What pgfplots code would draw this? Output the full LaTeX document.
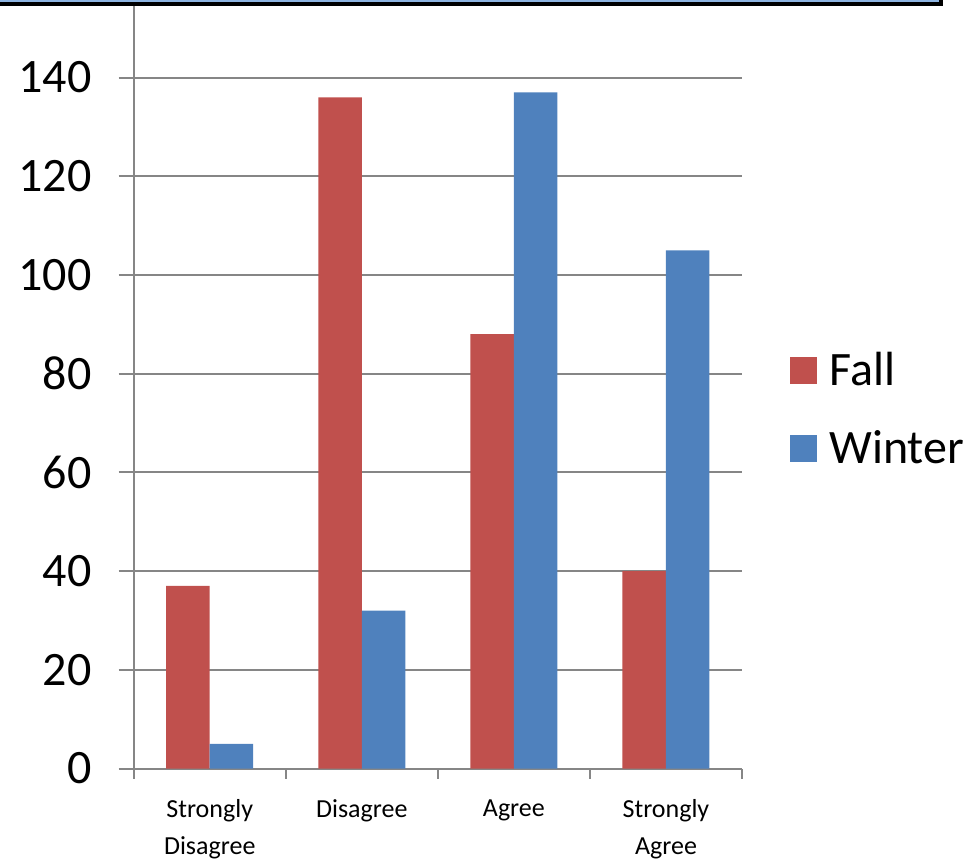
\documentclass[border=0pt]{standalone}
\usepackage{pgfplots}
\pgfplotsset{compat=1.18}
\usepackage{fontspec}
\setmainfont{Carlito}

\definecolor{fallred}{HTML}{C0504D}
\definecolor{winterblue}{HTML}{4F81BD}
\definecolor{gridgray}{HTML}{868686}
\definecolor{boxblue}{HTML}{8DB4E2}

\begin{document}
\begin{tikzpicture}
  \useasboundingbox (0,0) rectangle (489.5pt,431.5pt);
  \begin{axis}
  [
    at = {(66.85pt,47.25pt)},
    anchor = south west,
    scale only axis,
    width  = 304.15pt,
    height = 381.75pt,
    ybar = 0pt,
    bar width = 21.75pt,
    xmin = -0.5, xmax = 3.5,
    ymin = 0, ymax = 154.7,
    axis x line* = bottom,
    axis y line* = left,
    axis line style = {gridgray, line width=1pt},
    tick align = outside,
    major tick length = 7.5pt,
    minor tick length = 5pt,
    tick style = {gridgray, line width=1pt},
    major x tick style = {draw=none},
    xtick = {0,1,2,3},
    minor xtick = {-0.5,0.5,1.5,2.5,3.5},
    xticklabels = {{Strongly\\Disagree}, Disagree, Agree, {Strongly\\Agree}},
    xticklabel style = {align=center, yshift=-4.5pt,
                        font=\fontsize{13}{18.5}\selectfont},
    ytick = {0,20,...,140},
    yticklabel style = {xshift=-10pt, font=\fontsize{24}{28}\selectfont},
    /pgf/number format/assume math mode=true,
    ymajorgrids,
    grid style = {gridgray, line width=1pt},
    legend style = {at={(1.079,0.47)}, anchor=west, draw=none, fill=none,
                    font=\fontsize{24}{28}\selectfont, inner sep=0pt,
                    row sep=17pt, column sep=4pt},
    legend cell align = left,
  ]
  \addplot[fill=fallred, draw=none,
    legend image code/.code={\fill[fallred] (0pt,-6.75pt) rectangle (13.5pt,6.75pt);}]
    coordinates {(0,37) (1,136) (2,88) (3,40)};
  \addplot[fill=winterblue, draw=none,
    legend image code/.code={\fill[winterblue] (0pt,-6.75pt) rectangle (13.5pt,6.75pt);}]
    coordinates {(0,5) (1,32) (2,137) (3,105)};
  \legend{Fall, Winter}
  \end{axis}
  \draw[line width=1.75pt, fill=boxblue] (-5pt,445pt) rectangle (470.6pt,429.4pt);
\end{tikzpicture}
\end{document}
